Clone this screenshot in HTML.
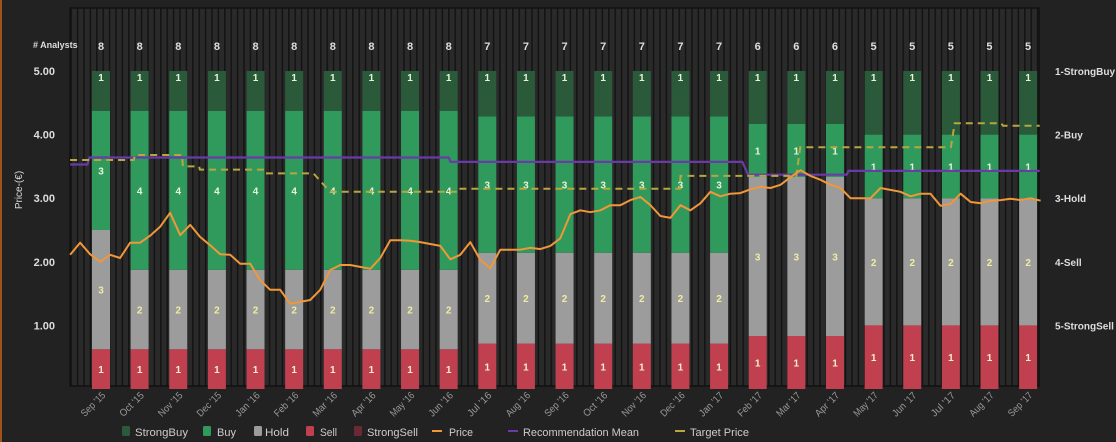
<!DOCTYPE html>
<html><head><meta charset="utf-8"><style>
body{margin:0;background:#222;}
svg{display:block;font-family:"Liberation Sans",sans-serif;}
</style></head><body>
<svg id="chart" width="1116" height="442">
<defs>
<pattern id="stripes" width="6.4" height="10" patternUnits="userSpaceOnUse"><rect width="6.4" height="10" fill="#2a2a2a"/><rect width="1.6" height="10" fill="#141414"/></pattern>
</defs>
<rect x="0" y="0" width="1116" height="442" fill="#222"/>
<rect x="0" y="0" width="2" height="442" fill="#a0521e"/>
<rect x="70" y="8" width="969" height="378" fill="url(#stripes)" stroke="#111" stroke-width="1.5"/>
<text x="33" y="48" font-size="9" fill="#ddd" font-weight="bold"># Analysts</text>
<text transform="translate(22,190) rotate(-90)" font-size="10" fill="#ddd" text-anchor="middle">Price-(€)</text>
<g id="g-grid"></g><g id="g-bars"></g><g id="g-lines"></g><g id="g-axes"></g><g id="g-legend"></g>
</svg>
<script>
const months=["Sep '15","Oct '15","Nov '15","Dec '15","Jan '16","Feb '16","Mar '16","Apr '16","May '16","Jun '16","Jul '16","Aug '16","Sep '16","Oct '16","Nov '16","Dec '16","Jan '17","Feb '17","Mar '17","Apr '17","May '17","Jun '17","Jul '17","Aug '17","Sep '17"];
const strongBuy=[1,1,1,1,1,1,1,1,1,1,1,1,1,1,1,1,1,1,1,1,1,1,1,1,1];
const buy=[3,4,4,4,4,4,4,4,4,4,3,3,3,3,3,3,3,1,1,1,1,1,1,1,1];
const hold=[3,2,2,2,2,2,2,2,2,2,2,2,2,2,2,2,2,3,3,3,2,2,2,2,2];
const sell=[1,1,1,1,1,1,1,1,1,1,1,1,1,1,1,1,1,1,1,1,1,1,1,1,1];
const strongSell=[0,0,0,0,0,0,0,0,0,0,0,0,0,0,0,0,0,0,0,0,0,0,0,0,0];
const yTicks=[1,2,3,4,5];
const rightLabels=["1-StrongBuy","2-Buy","3-Hold","4-Sell","5-StrongSell"];
const priceStart=-0.8, priceStep=0.259;
const priceValues=[2.11,2.30,2.12,2.00,2.11,2.06,2.30,2.30,2.41,2.55,2.77,2.42,2.58,2.39,2.26,2.12,2.11,1.97,1.97,1.71,1.56,1.56,1.34,1.37,1.40,1.56,1.87,1.95,1.95,1.92,1.89,2.06,2.34,2.34,2.33,2.31,2.28,2.25,2.04,2.11,2.31,2.03,1.90,2.19,2.19,2.19,2.22,2.20,2.25,2.37,2.75,2.81,2.78,2.81,2.89,2.89,2.97,3.02,2.89,2.72,2.69,2.89,2.81,2.92,3.10,3.03,3.07,3.08,3.14,3.18,3.16,3.21,3.33,3.44,3.35,3.29,3.21,3.16,3.00,3.00,3.00,3.16,3.13,3.10,3.03,3.07,3.07,2.88,2.91,3.07,2.94,2.92,2.96,2.97,2.99,2.97,3.00,2.96];
const targetT=[-0.8,0.85,0.88,2.1,2.12,2.54,2.56,4.23,4.25,5.5,5.93,9.28,9.3,14.98,15.0,18.0,18.1,22.0,22.1,23.3,23.35,24.3];
const targetValues=[3.6,3.6,3.68,3.68,3.5,3.5,3.45,3.45,3.39,3.39,3.1,3.1,3.15,3.15,3.35,3.35,3.8,3.8,4.18,4.18,4.14,4.14];
const recT=[-0.8,-0.35,-0.3,9.0,9.05,16.6,16.75,19.3,19.35,24.3];
const recValues=[3.53,3.53,3.64,3.64,3.57,3.57,3.37,3.37,3.43,3.43];

const NS="http://www.w3.org/2000/svg";
function el(tag,attrs,parent,text){const e=document.createElementNS(NS,tag);for(const k in attrs)e.setAttribute(k,attrs[k]);if(text!==undefined)e.textContent=text;parent.appendChild(e);return e;}
const xM=m=>101+m*38.63;
const yV=v=>389-63.6*v;
const gBars=document.getElementById('g-bars'),gLines=document.getElementById('g-lines'),gAxes=document.getElementById('g-axes'),gLeg=document.getElementById('g-legend');
const BW=18;
months.forEach((mn,i)=>{
  const total=strongBuy[i]+buy[i]+hold[i]+sell[i]+strongSell[i];
  const cx=xM(i);
  let cum=0;
  [[strongSell,"#6a2a34","#eee","strongsell"],[sell,"#c0404f","#f4f0c8","sell"],[hold,"#9c9c9c","#f0eca0","hold"],[buy,"#2f9a5c","#e8f4d8","buy"],[strongBuy,"#2b5a3b","#e8f4d8","strongbuy"]].forEach(([arr,col,tc,nm])=>{
    const n=arr[i]; if(!n)return;
    const v0=cum*5/total, v1=(cum+n)*5/total; cum+=n;
    const r=el('rect',{x:cx-BW/2,y:yV(v1),width:BW,height:yV(v0)-yV(v1),fill:col},gBars);
    
    
    const ty=nm==='strongbuy'?yV(v1)+10:(yV(v0)+yV(v1))/2+4;
    const t=el('text',{x:cx,y:ty,'font-size':10,'font-weight':'bold',fill:tc,'text-anchor':'middle'},gBars,String(n));
    
    
  });
  const a=el('text',{x:cx,y:50,'font-size':11,'font-weight':'bold',fill:'#ddd','text-anchor':'middle'},gAxes,String(total));
  
  
  const xl=el('text',{transform:`translate(${cx+5},${396}) rotate(-45)`,'font-size':10,fill:'#999','text-anchor':'end',textLength:30,lengthAdjust:'spacingAndGlyphs'},gAxes,mn);
  
  
});
yTicks.forEach((v,i)=>{
  const t=el('text',{x:55,y:yV(v)+4,'font-size':11,'font-weight':'bold',fill:'#ddd','text-anchor':'end'},gAxes,v.toFixed(2));
  
  
  const r=el('text',{x:1055,y:yV(5-i)+4,'font-size':10,'font-weight':'bold',fill:'#ddd'},gAxes,rightLabels[i]);
  
  
});
function pathFrom(ts,vs){return ts.map((t,i)=>(i?'L':'M')+xM(t).toFixed(1)+','+yV(vs[i]).toFixed(1)).join(' ');}
const rec=el('path',{d:pathFrom(recT,recValues),fill:'none',stroke:'#6a3aa8','stroke-width':2.2},gLines);


const tgt=el('path',{d:pathFrom(targetT,targetValues),fill:'none',stroke:'#b8a640','stroke-width':2,'stroke-dasharray':'7,5'},gLines);


const pT=priceValues.map((v,i)=>priceStart+i*priceStep);
const pr=el('path',{d:pathFrom(pT,priceValues),fill:'none',stroke:'#f0973a','stroke-width':2,'stroke-linejoin':'round'},gLines);


const legend=[["StrongBuy","#2b5a3b","box",122,135,53],["Buy","#2f9a5c","box",203,217,19],["Hold","#9c9c9c","box",254,265,24],["Sell","#c0404f","box",306,320,17],["StrongSell","#6a2a34","box",354,367,51],["Price","#f0973a","line",432,449,24],["Recommendation Mean","#6a3aa8","line",508,523,116],["Target Price","#b8a640","line",675,690,59]];
legend.forEach(([name,col,kind,x,tx,tw])=>{
  const g=el('g',{},gLeg);
  
  
  if(kind==='box')el('rect',{x:x,y:426,width:8,height:10,rx:1.5,fill:col},g);
  else el('rect',{x:x,y:430,width:10,height:2,fill:col},g);
  el('text',{x:tx,y:436,'font-size':11,fill:'#ccc',textLength:tw,lengthAdjust:'spacingAndGlyphs'},g,name);
});
</script>
</body></html>
